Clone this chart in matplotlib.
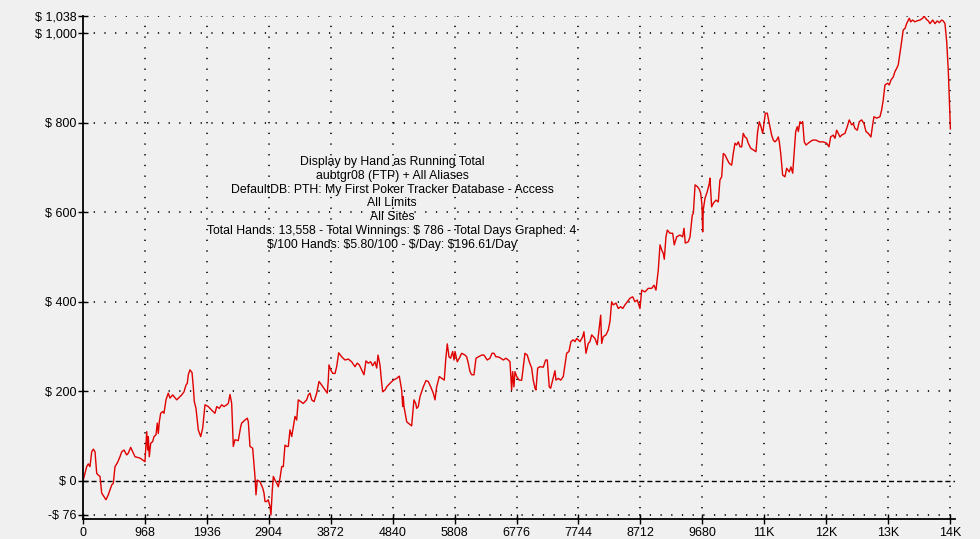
#!/usr/bin/env python3
import numpy as np
import matplotlib
matplotlib.use("Agg")
import matplotlib.pyplot as plt

plt.rcParams['font.family'] = ['Liberation Sans', 'DejaVu Sans']
plt.rcParams['text.parse_math'] = False
plt.rcParams['lines.scale_dashes'] = False

# running total (hand number, dollars)
hands = [0, 58, 83, 109, 136, 161, 188, 214, 239, 266, 292, 328, 359, 395, 422, 449, 474, 500, 536, 578,
         605, 641, 683, 708, 745, 777, 813, 891, 969, 996, 1011, 1021, 1036, 1058, 1089, 1110, 1141, 1161, 1177, 1193,
         1214, 1246, 1266, 1297, 1333, 1360, 1402, 1465, 1516, 1543, 1579, 1610, 1630, 1646, 1672, 1704, 1724, 1740, 1766, 1802,
         1840, 1871, 1907, 1958, 2012, 2063, 2090, 2130, 2168, 2204, 2246, 2271, 2298, 2324, 2349, 2376, 2427, 2465, 2480, 2532,
         2568, 2584, 2610, 2652, 2688, 2704, 2724, 2767, 2809, 2829, 2845, 2871, 2896, 2923, 2938, 2959, 2975, 3001, 3028, 3053,
         3079, 3106, 3131, 3157, 3184, 3209, 3235, 3262, 3287, 3314, 3340, 3365, 3403, 3443, 3496, 3522, 3548, 3575, 3611, 3653,
         3689, 3731, 3783, 3818, 3834, 3845, 3872, 3903, 3939, 3965, 3997, 4044, 4095, 4147, 4200, 4251, 4287, 4319, 4356, 4392,
         4423, 4459, 4497, 4528, 4564, 4591, 4611, 4642, 4669, 4684, 4720, 4747, 4798, 4850, 4903, 4944, 4981, 4997, 5006, 5017,
         5060, 5084, 5137, 5173, 5200, 5216, 5241, 5267, 5319, 5361, 5397, 5435, 5475, 5502, 5528, 5569, 5607, 5647, 5669, 5694,
         5721, 5747, 5778, 5799, 5815, 5850, 5882, 5919, 5971, 5997, 6022, 6049, 6075, 6111, 6143, 6179, 6232, 6268, 6299, 6319,
         6361, 6393, 6424, 6455, 6491, 6529, 6570, 6611, 6647, 6674, 6700, 6716, 6736, 6752, 6779, 6819, 6857, 6908, 6944, 6976,
         7013, 7038, 7065, 7080, 7107, 7143, 7195, 7232, 7257, 7288, 7310, 7341, 7377, 7393, 7429, 7467, 7507, 7534, 7560, 7596,
         7627, 7663, 7690, 7716, 7741, 7768, 7810, 7830, 7862, 7898, 7924, 7951, 8003, 8038, 8070, 8092, 8107, 8132, 8174, 8210,
         8237, 8263, 8289, 8331, 8367, 8404, 8436, 8471, 8507, 8550, 8592, 8628, 8664, 8706, 8733, 8784, 8836, 8889, 8925, 8956,
         8992, 9019, 9045, 9070, 9086, 9112, 9133, 9175, 9217, 9242, 9280, 9331, 9373, 9394, 9414, 9461, 9488, 9524, 9540, 9567,
         9603, 9634, 9655, 9675, 9686, 9695, 9722, 9758, 9789, 9800, 9826, 9852, 9894, 9930, 9956, 9983, 10008, 10034, 10061, 10101,
         10139, 10164, 10191, 10217, 10243, 10269, 10296, 10320, 10347, 10374, 10399, 10436, 10478, 10519, 10545, 10571, 10597, 10624, 10644, 10665,
         10696, 10727, 10764, 10790, 10816, 10843, 10868, 10884, 10906, 10936, 10972, 10999, 11040, 11066, 11093, 11113, 11140, 11165, 11181, 11207,
         11233, 11249, 11274, 11301, 11337, 11363, 11405, 11457, 11509, 11571, 11624, 11660, 11686, 11727, 11754, 11780, 11806, 11832, 11858, 11910,
         11946, 11977, 12015, 12040, 12066, 12103, 12134, 12171, 12207, 12239, 12274, 12316, 12343, 12363, 12405, 12457, 12483, 12508, 12535, 12577,
         12602, 12629, 12665, 12692, 12718, 12743, 12770, 12796, 12821, 12848, 12874, 12915, 12937, 12968, 13004, 13031, 13082, 13125, 13145, 13187,
         13213, 13239, 13281, 13317, 13353, 13384, 13421, 13446, 13473, 13500, 13515, 13525, 13541, 13558]
winnings = [0, 32, 38, 32, 65, 71, 65, 17, 13, 10, -27, -35, -42, -31, -20, -9, -5, 32, 40, 54,
            65, 69, 58, 62, 75, 65, 54, 51, 43, 110, 69, 99, 54, 84, 88, 99, 103, 129, 106, 132,
            151, 155, 151, 181, 196, 185, 192, 181, 188, 192, 199, 214, 218, 237, 248, 242, 210, 177, 162, 114,
            99, 118, 170, 166, 158, 151, 166, 162, 170, 166, 170, 173, 193, 173, 77, 92, 90, 121, 129, 136,
            140, 132, 77, 73, 10, -31, 2, -2, -16, -27, -46, -46, -42, -57, -76, -20, 10, 2, -5, -13,
            6, 32, 32, 80, 77, 77, 114, 99, 121, 144, 136, 181, 177, 173, 181, 192, 196, 181, 177, 196,
            222, 214, 203, 196, 225, 259, 248, 240, 240, 255, 286, 277, 270, 272, 266, 255, 263, 259, 248, 237,
            268, 263, 266, 257, 266, 252, 281, 259, 218, 199, 203, 210, 218, 225, 229, 234, 203, 166, 188, 166,
            132, 129, 123, 181, 173, 162, 166, 188, 210, 224, 222, 210, 196, 181, 210, 233, 229, 225, 270, 306,
            277, 274, 289, 270, 289, 266, 274, 285, 281, 277, 263, 244, 237, 237, 274, 277, 281, 281, 274, 270,
            274, 285, 285, 277, 277, 274, 270, 274, 270, 266, 203, 244, 210, 244, 233, 225, 225, 285, 281, 266,
            252, 225, 207, 203, 252, 255, 254, 270, 270, 210, 207, 225, 246, 225, 229, 225, 233, 259, 285, 289,
            311, 315, 311, 318, 315, 311, 322, 333, 285, 307, 311, 326, 318, 304, 344, 370, 307, 322, 326, 337,
            356, 400, 393, 397, 385, 389, 385, 393, 400, 408, 411, 400, 404, 385, 426, 422, 430, 430, 437, 426,
            471, 527, 516, 508, 495, 545, 560, 553, 553, 527, 545, 549, 545, 564, 531, 534, 545, 594, 597, 661,
            657, 651, 642, 616, 556, 605, 631, 646, 664, 676, 612, 620, 627, 623, 672, 679, 731, 728, 720, 709,
            705, 731, 754, 750, 757, 746, 746, 776, 768, 765, 754, 743, 739, 735, 780, 802, 791, 776, 798, 821,
            821, 798, 772, 761, 757, 761, 768, 757, 731, 683, 679, 698, 690, 701, 687, 728, 780, 791, 780, 802,
            798, 802, 757, 750, 754, 757, 761, 761, 757, 757, 754, 746, 768, 772, 765, 783, 776, 768, 772, 776,
            791, 806, 795, 798, 787, 783, 802, 806, 798, 780, 776, 768, 795, 813, 810, 813, 828, 850, 884, 888,
            884, 895, 902, 914, 921, 929, 955, 981, 1007, 1010, 1021, 1033, 1025, 1029, 1025, 1027, 1029, 1033, 1038, 1030,
            1027, 1021, 1029, 1021, 1027, 1023, 1029, 1027, 1021, 981, 940, 917, 850, 786]

xticks = [0, 968, 1936, 2904, 3872, 4840, 5808, 6776, 7744, 8712, 9680, 10648, 11616, 12584, 13552]
xlabels = ['0', '968', '1936', '2904', '3872', '4840', '5808', '6776', '7744', '8712', '9680', '11K', '12K', '13K', '14K']
yticks = [-76, 0, 200, 400, 600, 800, 1000, 1038]
ylabels = ['-$ 76', '$ 0', '$ 200', '$ 400', '$ 600', '$ 800', '$ 1,000', '$ 1,038']

info = ["Display by Hand as Running Total",
        "aubtgr08 (FTP) + All Aliases",
        "DefaultDB: PTH: My First Poker Tracker Database - Access",
        "All Limits",
        "All Sites",
        "Total Hands: 13,558 - Total Winnings: $ 786 - Total Days Graphed: 4",
        "$/100 Hands: $5.80/100 - $/Day: $196.61/Day"]

bg = '#f0f0f0'
fig = plt.figure(figsize=(9.8, 5.39), dpi=100, facecolor=bg)
ax = fig.add_axes([83/980, 1-519/539, (955-83)/980, (519-16)/539])
ax.set_facecolor(bg)

for y in yticks:
    if y == 0:
        ax.axhline(y, color='black', lw=1.0, ls=(0, (3.6, 2.2)), zorder=1)
    else:
        ax.axhline(y, color='black', lw=1.2, ls=(0, (0.9, 6.8)), zorder=1)
for x in xticks[1:]:
    ax.axvline(x, color='black', lw=1.2, ls=(0, (0.9, 6.8)), zorder=1)

ax.plot(hands, winnings, color='#e00000', lw=1.0, zorder=3)

ax.set_xlim(0, 13630)
ax.set_ylim(-85, 1038)
ax.set_xticks(xticks)
ax.set_xticklabels(xlabels)
ax.set_yticks(yticks)
ax.set_yticklabels(ylabels)
ax.tick_params(direction='inout', length=7, width=1.0, labelsize=9, colors='black', pad=1)
ax.tick_params(axis='x', pad=2)

for s in ['top', 'right']:
    ax.spines[s].set_visible(False)
for s in ['left', 'bottom']:
    ax.spines[s].set_linewidth(1.3)
    ax.spines[s].set_zorder(4)

fig.text(392/980, 1-156/539, "\n".join(info), ha='center', va='top', ma='center',
         fontsize=8.8, linespacing=1.2, color='black')

fig.savefig("out.png", dpi=100, facecolor=bg)
